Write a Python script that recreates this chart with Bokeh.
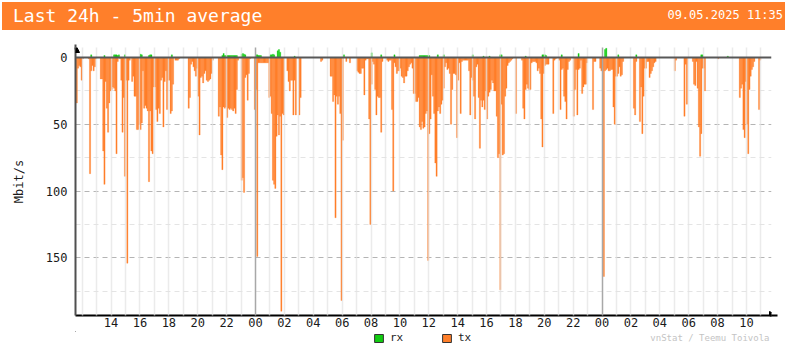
from bokeh.plotting import figure
from bokeh.models import (Range1d, FixedTicker, Grid, Span, Label, Legend, LegendItem,
                          Arrow, NormalHead, ColumnDataSource, Div)
from bokeh.layouts import column
from bokeh.embed import file_html
from bokeh.resources import INLINE

# ---------------- data ----------------
title_text = "Last 24h - 5min average"
stamp_text = "09.05.2025 11:35"
credit_text = "vnStat / Teemu Toivola"
y_title = "Mbit/s"
series_names = ["rx", "tx"]

start_hour = 11 + 35 / 60          # 07.05.2025 11:35 (hours since 07.05 00:00)
bar_hours = 5 / 60                 # 5 minute bars

tick_hours = [14, 16, 18, 20, 22, 24, 26, 28, 30, 32, 34, 36, 38, 40, 42, 44, 46, 48, 50, 52, 54, 56, 58]
tick_labels = ["14", "16", "18", "20", "22", "00", "02", "04", "06", "08", "10", "12",
               "14", "16", "18", "20", "22", "00", "02", "04", "06", "08", "10"]
hour_lines = [12, 13, 14, 15, 16, 17, 18, 19, 20, 21, 22, 23, 25, 26, 27, 28, 29, 30, 31, 32, 33, 34,
              35, 36, 37, 38, 39, 40, 41, 42, 43, 44, 45, 46, 47, 49, 50, 51, 52, 53, 54, 55, 56, 57, 58, 59]
midnight_lines = [24, 48]
y_ticks = [0, 50, 100, 150]
y_minor = [25, 75, 125, 175]

# tx in Mbit/s, one row per hour (5-minute averages)
tx_rows = [
    [34, 8, 6, 7, 17],                                   # 07.05 11:35
    [1, 0, 0, 0, 0, 1, 87, 10, 6, 10, 7, 1],             # 12
    [0, 0, 0, 16, 16, 70, 95, 18, 38, 56, 34, 25],       # 13
    [24, 22, 23, 25, 72, 3, 0, 1, 17, 56, 30, 89],       # 14
    [17, 154, 17, 2, 0, 18, 14, 29, 29, 54, 54, 50],     # 15
    [54, 49, 10, 38, 36, 38, 40, 93, 40, 70, 72, 22],    # 16
    [22, 39, 48, 38, 42, 17, 15, 52, 18, 10, 39, 17],    # 17
    [17, 42, 40, 20, 0, 2, 2, 2, 1, 0, 0, 0],            # 18
    [0, 0, 0, 0, 38, 30, 5, 3, 7, 10, 14, 8],            # 19
    [29, 58, 15, 14, 19, 12, 10, 17, 18, 17, 16, 12],    # 20
    [2, 0, 0, 0, 0, 44, 37, 73, 84, 37, 38, 37],         # 21
    [45, 38, 39, 38, 39, 40, 38, 42, 24, 2, 0, 0],       # 22
    [92, 90, 101, 15, 13, 32, 12, 1, 0, 0, 0, 39],       # 23
    [24, 149, 4, 4, 4, 4, 4, 4, 4, 4, 4, 30],            # 08.05 00
    [29, 42, 92, 95, 98, 59, 43, 58, 44, 190, 42, 43],   # 01
    [0, 0, 10, 18, 25, 17, 17, 43, 17, 43, 0, 0],        # 02
    [43, 30, 0, 0, 0, 0, 0, 0, 0, 0, 0, 0],              # 03
    [0, 0, 0, 0, 0, 0, 3, 2, 0, 0, 0, 0],                # 04
    [0, 0, 14, 14, 33, 28, 120, 29, 35, 29, 42, 182],    # 05
    [62, 0, 0, 3, 0, 0, 4, 0, 0, 0, 0, 0],               # 06
    [10, 11, 12, 12, 8, 8, 28, 2, 1, 1, 46, 125],        # 07
    [20, 3, 5, 24, 43, 29, 30, 30, 56, 3, 0, 0],         # 08
    [0, 2, 3, 2, 2, 39, 100, 4, 7, 12, 10, 10],          # 09
    [8, 14, 15, 19, 14, 14, 10, 7, 5, 4, 8, 27],         # 10
    [27, 33, 33, 30, 52, 54, 48, 53, 52, 42, 40, 152],   # 11
    [57, 46, 13, 29, 42, 79, 89, 40, 37, 42, 35, 32],    # 12
    [23, 7, 4, 9, 8, 12, 50, 24, 12, 12, 13, 60],        # 13
    [17, 4, 42, 3, 2, 2, 2, 2, 2, 10, 43, 15],           # 14
    [17, 29, 46, 7, 5, 30, 68, 32, 37, 32, 39, 25],      # 15
    [46, 29, 26, 24, 17, 19, 25, 25, 44, 75, 72, 174],   # 16
    [35, 73, 72, 29, 23, 6, 4, 3, 2, 1, 0, 0],           # 17
    [42, 0, 0, 0, 0, 2, 38, 46, 24, 20, 23, 24],         # 18
    [24, 4, 3, 3, 3, 4, 10, 8, 12, 46, 67, 12],          # 19
    [6, 5, 5, 5, 0, 0, 0, 42, 2, 1, 0, 0],               # 20
    [2, 39, 9, 8, 29, 33, 46, 9, 3, 2, 0, 0],            # 21
    [44, 24, 9, 43, 9, 8, 2, 27, 22, 20, 20, 4],         # 22
    [0, 0, 0, 0, 39, 3, 3, 0, 0, 0, 8, 10],              # 23
    [10, 164, 10, 9, 8, 10, 10, 9, 9, 37, 50, 14],       # 09.05 00
    [14, 12, 7, 14, 13, 3, 0, 0, 0, 0, 0, 0],            # 01
    [0, 0, 38, 43, 3, 0, 0, 48, 22, 57, 29, 8],          # 02
    [8, 3, 3, 15, 12, 10, 7, 4, 3, 0, 0, 0],             # 03
    [0, 0, 0, 0, 0, 0, 0, 0, 0, 0, 0, 0],                # 04
    [10, 2, 0, 0, 0, 0, 0, 0, 44, 5, 35, 0],             # 05
    [0, 0, 0, 3, 20, 21, 3, 23, 52, 74, 57, 8],          # 06
    [8, 25, 0, 0, 0, 0, 0, 0, 0, 0, 0, 0],               # 07
    [1, 0, 0, 0, 0, 0, 0, 0, 0, 0, 0, 0],                # 08
    [0, 0, 0, 0, 0, 0, 30, 23, 20, 54, 60, 18],          # 09
    [50, 72, 24, 14, 9, 7, 3, 0, 0, 0, 39, 2],           # 10
    [0, 0, 0, 0, 0, 0, 0],                               # 11:00-11:30
]

# rx in Mbit/s: only the 5-minute slots where it is visible
rx_slots = [12, 23, 31, 32, 33, 34, 35, 40, 53, 54, 60, 61, 62, 79,
            121, 122, 123, 124, 125, 126, 127, 128, 129, 130, 131, 132, 133,
            137, 138, 139, 140, 149, 150, 151, 152, 153, 161, 162, 163, 164,
            167, 168, 169, 181, 222, 245, 253, 264,
            285, 286, 287, 288, 289, 290, 291, 292, 293, 300, 305, 329, 338, 343,
            352, 353, 373, 387, 388, 389, 390, 403, 417, 439, 440, 450, 465, 519, 520, 541]
rx_mbit = [2, 1.5, 2, 2, 2, 1.5, 2, 2, 2.5, 2, 1.5, 2, 2, 2,
           1.5, 3, 1.5, 1.5, 1.5, 1.5, 1.5, 1.5, 1.5, 1.5, 1.5, 1.5, 1.5,
           2.5, 3, 2.5, 2, 2, 2, 1.5, 1.5, 1.5, 2, 2, 2.5, 2,
           5, 6, 4, 1, 2, 3.5, 2, 2,
           1.5, 1.5, 1.5, 1.5, 1.5, 1.5, 1.5, 1.5, 1.5, 2, 2, 2, 1, 1,
           2, 2, 1, 2, 2, 2, 1.5, 2, 3, 6, 7, 2, 2, 2, 2, 1]

# ---------------- style ----------------
ORANGE = "#ff7f2a"
GREEN = "#11cc11"
MONO = "DejaVu Sans Mono"
W = 785

tx = [v for row in tx_rows for v in row]
tx_x = [start_hour + (i + 0.5) * bar_hours for i in range(len(tx))]
rx_x = [start_hour + (i + 0.5) * bar_hours for i in rx_slots]
rx_top = [-v for v in rx_mbit]

x_lo, x_hi = 11.535, 59.735
y_bottom, y_top = 193.2, -7.5

# ---------------- header band ----------------
header = Div(
    text=(f'<div style="display:flex;justify-content:space-between;align-items:center;'
          f'width:783px;height:28px;background:{ORANGE};color:white;font-family:\'{MONO}\';'
          f'white-space:pre;">'
          f'<span style="font-size:18px;padding-left:11px;">{title_text}</span>'
          f'<span style="font-size:12px;padding-right:2px;">{stamp_text}</span></div>'),
    width=783, height=28, margin=(2, 0, 0, 2))

# ---------------- main chart ----------------
p = figure(width=W, height=301, x_range=Range1d(x_lo, x_hi), y_range=Range1d(y_bottom, y_top),
           toolbar_location=None, output_backend="svg",
           min_border_left=75, min_border_right=14, min_border_top=17, min_border_bottom=16,
           outline_line_color=None, background_fill_color="white", border_fill_color="white")

p.xgrid.ticker = FixedTicker(ticks=hour_lines)
p.xgrid.grid_line_color = "#e2e2e2"
p.xgrid.grid_line_alpha = 0.7
p.xgrid.grid_line_width = 1.5
p.xgrid.level = "guide"
p.add_layout(Grid(dimension=0, ticker=FixedTicker(ticks=midnight_lines),
                  grid_line_color="#a8a8a8", grid_line_width=1.5, level="guide"))
p.ygrid.ticker = FixedTicker(ticks=[t for t in y_ticks if t > 0])
p.ygrid.grid_line_color = "#b4b4b4"
p.ygrid.grid_line_dash = "5 4"
p.ygrid.grid_line_width = 1
p.add_layout(Grid(dimension=1, ticker=FixedTicker(ticks=y_minor),
                  grid_line_color="#e4e4e4", grid_line_dash="5 4", grid_line_width=1))

src_tx = ColumnDataSource(dict(x=tx_x, top=tx))
src_rx = ColumnDataSource(dict(x=rx_x, top=rx_top))
p.vbar(x="x", top="top", bottom=0, width=bar_hours, source=src_tx,
       fill_color=ORANGE, line_color=ORANGE, line_width=0.3)
p.vbar(x="x", top="top", bottom=0, width=bar_hours, source=src_rx,
       fill_color=GREEN, line_color=GREEN, line_width=0.3)

p.add_layout(Span(location=0, dimension="width", line_color="#585858", line_width=2))

p.xaxis.ticker = FixedTicker(ticks=tick_hours)
p.xaxis.major_label_overrides = {t: l for t, l in zip(tick_hours, tick_labels)}
p.yaxis.ticker = FixedTicker(ticks=y_ticks)
for ax, col in ((p.xaxis, "#000000"), (p.yaxis, "#505050")):
    ax.axis_line_color = col
    ax.axis_line_width = 2
    ax.major_tick_line_color = None
    ax.minor_tick_line_color = None
    ax.major_tick_out = 0
    ax.major_tick_in = 0
    ax.major_label_text_font = MONO
    ax.major_label_text_font_size = "12px"
    ax.major_label_text_color = "#1a1a1a"
p.xaxis.major_label_standoff = 2
p.yaxis.major_label_standoff = 8
p.yaxis.axis_label = y_title
p.yaxis.axis_label_text_font = MONO
p.yaxis.axis_label_text_font_size = "12px"
p.yaxis.axis_label_text_font_style = "normal"
p.yaxis.axis_label_text_color = "#1a1a1a"
p.yaxis.axis_label_standoff = 17

px_h = (x_hi - x_lo) / 696
px_y = (y_bottom - y_top) / 268
p.add_layout(Arrow(end=NormalHead(size=8, fill_color="black", line_color="black"),
                   x_start=x_hi - 2 * px_h, y_start=y_bottom, x_end=x_hi + 6 * px_h, y_end=y_bottom,
                   line_color="black", line_width=2))
p.add_layout(Arrow(end=NormalHead(size=8, fill_color="black", line_color="black"),
                   x_start=x_lo, y_start=y_top + 2 * px_y, x_end=x_lo, y_end=y_top - 3 * px_y,
                   line_color="#505050", line_width=2))

# ---------------- footer: legend + credits ----------------
f = figure(width=W, height=13, x_range=Range1d(75, 785), y_range=Range1d(13, 0),
           x_axis_type=None, y_axis_type=None, toolbar_location=None, output_backend="svg",
           min_border_left=75, min_border_right=0, min_border_top=0, min_border_bottom=0,
           outline_line_color=None, background_fill_color="white", border_fill_color="white")
f.grid.visible = False
rx_proxy = f.vbar(x=[0], top=[0], bottom=[0], width=1, fill_color=GREEN, line_color="#333333")
tx_proxy = f.vbar(x=[0], top=[0], bottom=[0], width=1, fill_color=ORANGE, line_color="#333333")
legend = Legend(items=[LegendItem(label=series_names[0], renderers=[rx_proxy]),
                       LegendItem(label=series_names[1], renderers=[tx_proxy])],
                orientation="horizontal", location=(298, 0),
                padding=0, margin=0, spacing=31, glyph_width=11, glyph_height=10,
                label_height=10, label_standoff=6, border_line_color=None,
                background_fill_alpha=0,
                label_text_font=MONO, label_text_font_size="11px", label_text_color="#222222")
f.add_layout(legend)
f.add_layout(Label(x=783, y=6.5, text=credit_text, text_align="right",
                   text_baseline="middle", text_font=MONO, text_font_size="9px",
                   text_color="#c4c4c4"))

layout = column(header, p, f, spacing=0)
open("out.html", "w").write(file_html(layout, INLINE))
